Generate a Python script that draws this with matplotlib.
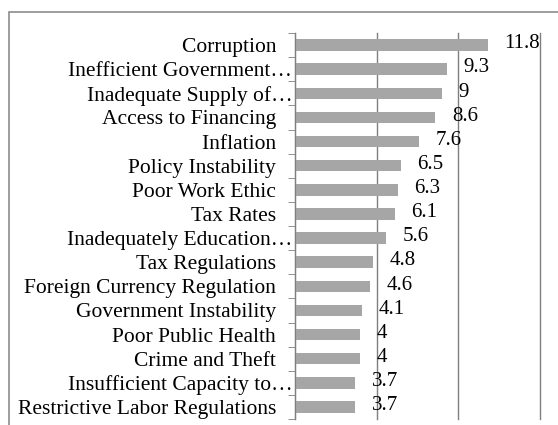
import matplotlib.pyplot as plt
from matplotlib.patches import Rectangle

categories = ['Corruption', 'Inefficient Government…', 'Inadequate Supply of…',
              'Access to Financing', 'Inflation', 'Policy Instability',
              'Poor Work Ethic', 'Tax Rates', 'Inadequately Education…',
              'Tax Regulations', 'Foreign Currency Regulation',
              'Government Instability', 'Poor Public Health', 'Crime and Theft',
              'Insufficient Capacity to…', 'Restrictive Labor Regulations']
values = [11.8, 9.3, 9, 8.6, 7.6, 6.5, 6.3, 6.1, 5.6, 4.8, 4.6, 4.1, 4, 4, 3.7, 3.7]
value_labels = ['11.8', '9.3', '9', '8.6', '7.6', '6.5', '6.3', '6.1', '5.6',
                '4.8', '4.6', '4.1', '4', '4', '3.7', '3.7']

plt.rcParams['font.family'] = ['Liberation Serif', 'DejaVu Serif']

fig = plt.figure(figsize=(5.58, 4.25), dpi=100)
# outer chart border (cropped on the right and bottom)
fig.patches.append(Rectangle((9 / 558, -0.1), 1.2, 1.1 - 12 / 425,
                             transform=fig.transFigure, fill=False,
                             edgecolor='#8c8c8c', linewidth=1.2))

ax = fig.add_axes([295 / 558, 6 / 425, 245 / 558, 386 / 425])
n = len(categories)
pos = list(range(n))
ax.barh(pos, values, height=0.48, color='#a6a6a6', zorder=2)

for p, v, lab in zip(pos, values, value_labels):
    ax.text(v + 1.0, p - 0.05, lab, va='center', ha='left', fontsize=15, zorder=3)

ax.set_xlim(0, 15)
ax.set_ylim(n - 0.5, -0.5)
ax.set_xticks([0, 5, 10, 15])
ax.set_xticklabels([])
ax.tick_params(axis='x', length=0)
ax.grid(axis='x', color='#7f7f7f', linewidth=1, zorder=1)
for gl in ax.get_xgridlines():
    gl.set_clip_on(False)

# full names get a little gap before the axis, truncated ones run up to it
ticklabels = [c if c.endswith('…') else c + '   ' for c in categories]
ax.set_yticks(pos)
ax.set_yticklabels(ticklabels, fontsize=15.5)
ax.tick_params(axis='y', which='major', length=0, pad=2)
ax.set_yticks([p - 0.5 for p in range(n + 1)], minor=True)
ax.tick_params(axis='y', which='minor', length=5, color='#7f7f7f', direction='out')

for s in ['top', 'right', 'bottom']:
    ax.spines[s].set_visible(False)
ax.spines['left'].set_color('#7f7f7f')

fig.savefig('out.png', dpi=100)
